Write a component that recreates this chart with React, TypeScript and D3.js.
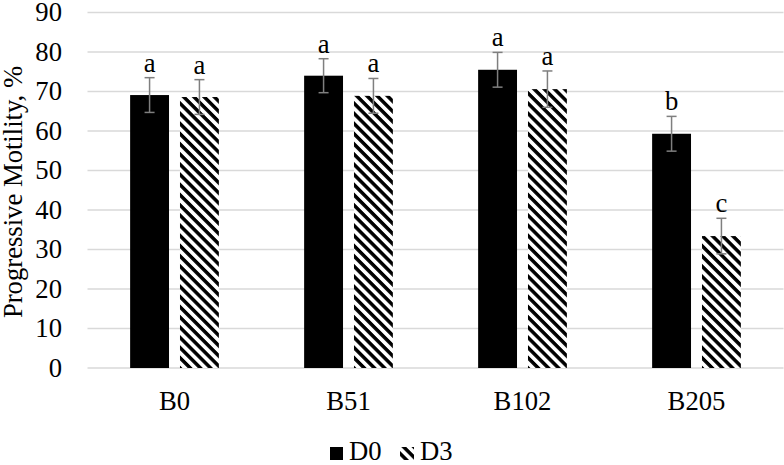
import React, { useRef, useEffect } from "react";
import * as d3 from "d3";

const categories = ["B0", "B51", "B102", "B205"];
const seriesKeys = ["D0", "D3"];
const d0Values = [69.1, 74.0, 75.5, 59.3];
const d3Values = [68.6, 68.9, 70.6, 33.4];
const d0Errors = [4.4, 4.3, 4.4, 4.4];
const d3Errors = [4.4, 4.4, 4.6, 4.5];
const d0Letters = ["a", "a", "a", "b"];
const d3Letters = ["a", "a", "a", "c"];
const yTicks = [0, 10, 20, 30, 40, 50, 60, 70, 80, 90];

export default function App() {
  const svgRef = useRef(null);

  useEffect(() => {
    document.body.style.margin = "0";
    const svg = d3.select(svgRef.current);
    svg.selectAll("*").remove();

    const font = "'Liberation Serif', 'Times New Roman', serif";
    const fs = "26.67px";
    const left = 87.5;
    const right = 783.5;
    const top = 12.5;
    const bottom = 368;

    // hatch for D3 bars
    const defs = svg.append("defs");
    const pat = defs
      .append("pattern")
      .attr("id", "hatch")
      .attr("patternUnits", "userSpaceOnUse")
      .attr("width", 7.2)
      .attr("height", 7.2)
      .attr("patternTransform", "rotate(45)");
    pat.append("rect").attr("width", 7.2).attr("height", 7.2).attr("fill", "#fff");
    pat.append("rect").attr("y", 0).attr("width", 7.2).attr("height", 3.5).attr("fill", "#000");

    const y = d3.scaleLinear().domain([0, 90]).range([bottom, top]);
    const x0 = d3
      .scaleBand()
      .domain(categories)
      .range([left, right])
      .paddingInner(0.49)
      .paddingOuter(0.245);
    const x1 = d3.scaleBand().domain(seriesKeys).range([0, x0.bandwidth()]).paddingInner(0.22);

    // gridlines
    svg
      .append("g")
      .selectAll("line")
      .data(yTicks)
      .enter()
      .append("line")
      .attr("x1", left)
      .attr("x2", right)
      .attr("y1", (d) => y(d))
      .attr("y2", (d) => y(d))
      .attr("stroke", "#d9d9d9")
      .attr("stroke-width", 1.5);

    // tick labels
    svg
      .append("g")
      .selectAll("text")
      .data(yTicks)
      .enter()
      .append("text")
      .attr("x", 62)
      .attr("y", (d) => y(d))
      .attr("dy", "0.33em")
      .attr("text-anchor", "end")
      .attr("font-family", font)
      .attr("font-size", fs)
      .attr("fill", "#000")
      .text((d) => d);

    const rows = categories.map((c, i) => ({
      cat: c,
      bars: [
        { key: "D0", value: d0Values[i], err: d0Errors[i], letter: d0Letters[i] },
        { key: "D3", value: d3Values[i], err: d3Errors[i], letter: d3Letters[i] },
      ],
    }));

    const groups = svg
      .append("g")
      .selectAll("g")
      .data(rows)
      .enter()
      .append("g")
      .attr("transform", (d) => `translate(${x0(d.cat)},0)`);

    groups
      .selectAll("rect")
      .data((d) => d.bars)
      .enter()
      .append("rect")
      .attr("x", (d) => x1(d.key))
      .attr("width", x1.bandwidth())
      .attr("y", (d) => y(d.value))
      .attr("height", (d) => y(0) - y(d.value))
      .attr("fill", (d) => (d.key === "D0" ? "#000" : "url(#hatch)"));

    // error bars
    const eb = groups
      .selectAll("g.err")
      .data((d) => d.bars)
      .enter()
      .append("g")
      .attr("class", "err")
      .attr("stroke", "#7f7f7f")
      .attr("stroke-width", 1.5);
    const cx = (d) => x1(d.key) + x1.bandwidth() / 2;
    eb.append("line")
      .attr("x1", cx)
      .attr("x2", cx)
      .attr("y1", (d) => y(d.value + d.err))
      .attr("y2", (d) => y(d.value - d.err));
    eb.append("line")
      .attr("x1", (d) => cx(d) - 5)
      .attr("x2", (d) => cx(d) + 5)
      .attr("y1", (d) => y(d.value + d.err))
      .attr("y2", (d) => y(d.value + d.err));
    eb.append("line")
      .attr("x1", (d) => cx(d) - 5)
      .attr("x2", (d) => cx(d) + 5)
      .attr("y1", (d) => y(d.value - d.err))
      .attr("y2", (d) => y(d.value - d.err));

    // significance letters
    groups
      .selectAll("text.letter")
      .data((d) => d.bars)
      .enter()
      .append("text")
      .attr("class", "letter")
      .attr("x", cx)
      .attr("y", (d) => y(d.value + d.err) - 6)
      .attr("text-anchor", "middle")
      .attr("font-family", font)
      .attr("font-size", fs)
      .text((d) => d.letter);

    // category labels
    svg
      .append("g")
      .selectAll("text")
      .data(categories)
      .enter()
      .append("text")
      .attr("x", (d) => x0(d) + x0.bandwidth() / 2)
      .attr("y", 410)
      .attr("text-anchor", "middle")
      .attr("font-family", font)
      .attr("font-size", fs)
      .text((d) => d);

    // y axis title
    svg
      .append("text")
      .attr("transform", `translate(22,192) rotate(-90)`)
      .attr("text-anchor", "middle")
      .attr("font-family", font)
      .attr("font-size", fs)
      .text("Progressive Motility, %");

    // legend
    const legend = svg.append("g");
    legend.append("rect").attr("x", 330).attr("y", 447).attr("width", 13).attr("height", 13).attr("fill", "#000");
    legend
      .append("text")
      .attr("x", 349)
      .attr("y", 459.5)
      .attr("font-family", font)
      .attr("font-size", fs)
      .text("D0");
    legend.append("rect").attr("x", 400).attr("y", 447).attr("width", 14).attr("height", 13).attr("fill", "url(#hatch)");
    legend
      .append("text")
      .attr("x", 420)
      .attr("y", 459.5)
      .attr("font-family", font)
      .attr("font-size", fs)
      .text("D3");
  }, []);

  return <svg ref={svgRef} width={784} height={465} style={{ display: "block" }}></svg>;
}
